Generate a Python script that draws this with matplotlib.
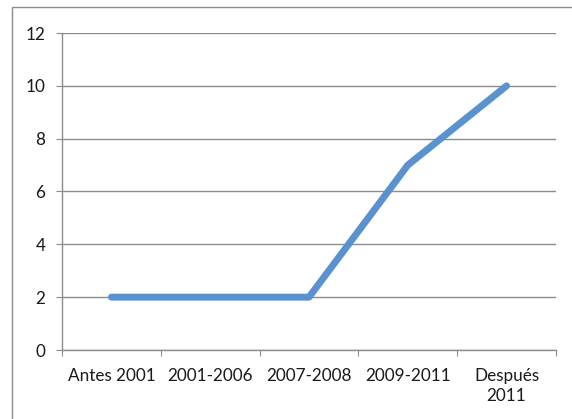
import matplotlib
matplotlib.use("Agg")
import matplotlib.pyplot as plt
from matplotlib.patches import Rectangle

categories = ["Antes 2001", "2001-2006", "2007-2008", "2009-2011", "Después\n2011"]
values = [2, 2, 2, 7, 10]
yticks = [0, 2, 4, 6, 8, 10, 12]

plt.rcParams['font.family'] = ['Lato', 'DejaVu Sans']

fig = plt.figure(figsize=(5.72, 4.19), dpi=100)
fig.patches.append(Rectangle((12/572, -0.1), 1.2, (419-7)/419 + 0.1, transform=fig.transFigure,
                             fill=False, edgecolor='#8c8c8c', linewidth=1.0))
ax = fig.add_axes([62/572, (419-350)/419, (556-62)/572, (350-33)/419])

x = list(range(len(categories)))
ax.plot(x, values, color='#5A92CF', linewidth=5, solid_capstyle='round', solid_joinstyle='round', zorder=3)

ax.set_xlim(-0.5, len(categories) - 0.5)
ax.set_ylim(0, 12)
ax.set_yticks(yticks)
ax.set_yticklabels([str(v) for v in yticks])
ax.yaxis.grid(True, color='#8c8c8c', linewidth=1.0)
ax.set_axisbelow(True)

ax.set_xticks([i - 0.5 for i in range(len(categories) + 1)])
ax.set_xticklabels([])
ax.set_xticks(x, minor=True)
ax.set_xticklabels(categories, minor=True, fontsize=12.3, color='#1a1a1a', linespacing=1.3)
ax.tick_params(axis='x', which='minor', length=0, pad=13)
ax.tick_params(axis='x', which='major', length=4, color='#8c8c8c', direction='out')
ax.tick_params(axis='y', length=4, color='#8c8c8c', labelsize=12.3, labelcolor='#1a1a1a', pad=8)

for s in ['top', 'right']:
    ax.spines[s].set_visible(False)
for s in ['left', 'bottom']:
    ax.spines[s].set_color('#8c8c8c')
    ax.spines[s].set_linewidth(1.0)

fig.savefig("out.png", dpi=100)
